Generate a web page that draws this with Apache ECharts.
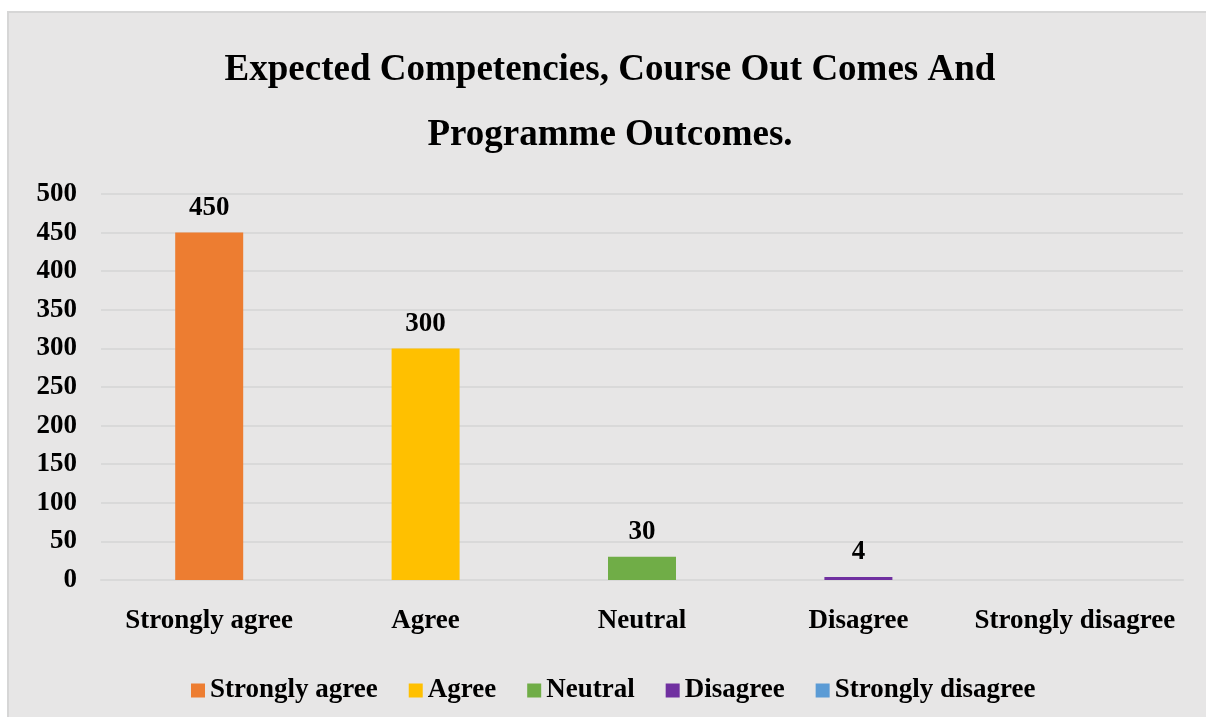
<!DOCTYPE html>
<html>
<head>
<meta charset="utf-8">
<title>Expected Competencies</title>
<script src="https://cdn.jsdelivr.net/npm/echarts@6/dist/echarts.min.js"></script>
<style>
  html, body { margin: 0; padding: 0; background: #fff; }
  #chart { width: 1206px; height: 717px; }
</style>
</head>
<body>
<div id="chart"></div>
<script>
var categories = ['Strongly agree', 'Agree', 'Neutral', 'Disagree', 'Strongly disagree'];
var counts = [450, 300, 30, 4, 0];
var colors = ['#ED7D31', '#FFC000', '#70AD47', '#7030A0', '#5B9BD5'];
var yTicks = { min: 0, max: 500, step: 50 };

var serif = "'Liberation Serif', 'Times New Roman', serif";

var myChart = echarts.init(document.getElementById('chart'));

// one series per category, stacked so each bar sits centred on its own category
var series = categories.map(function (name, i) {
  var data = categories.map(function (c, j) { return j === i ? counts[i] : '-'; });
  return {
    name: name,
    type: 'bar',
    stack: 'all',
    barWidth: 68,
    itemStyle: { color: colors[i] },
    label: {
      show: true,
      position: 'top',
      distance: 11,
      color: '#000',
      fontFamily: serif,
      fontWeight: 'bold',
      fontSize: 27,
      formatter: function (p) { return p.value ? String(p.value) : ''; }
    },
    data: data
  };
});

var option = {
  backgroundColor: '#ffffff',
  animation: false,
  graphic: [{
    type: 'rect',
    z: -10,
    shape: { x: 8, y: 12, width: 1200, height: 710 },
    style: { fill: '#e7e6e6', stroke: '#d6d6d6', lineWidth: 2 }
  }],
  title: {
    text: 'Expected Competencies, Course Out Comes And\nProgramme Outcomes.',
    left: 605,
    textAlign: 'center',
    top: 33,
    textStyle: {
      fontFamily: serif,
      fontWeight: 'bold',
      fontSize: 37,
      lineHeight: 65,
      color: '#000'
    }
  },
  legend: {
    bottom: 8,
    left: 186,
    itemWidth: 14,
    itemHeight: 14,
    itemGap: 31,
    icon: 'rect',
    textStyle: {
      fontFamily: serif,
      fontWeight: 'bold',
      fontSize: 27,
      color: '#000'
    },
    data: categories
  },
  grid: {
    left: 101,
    right: 23,
    top: 194,
    bottom: 137
  },
  xAxis: {
    type: 'category',
    data: categories,
    axisLine: { lineStyle: { color: '#d9d9d9', width: 2 } },
    axisTick: { show: false },
    axisLabel: {
      interval: 0,
      margin: 28,
      color: '#000',
      fontFamily: serif,
      fontWeight: 'bold',
      fontSize: 27
    }
  },
  yAxis: {
    type: 'value',
    min: yTicks.min,
    max: yTicks.max,
    interval: yTicks.step,
    axisLine: { show: false },
    axisTick: { show: false },
    splitLine: { lineStyle: { color: '#d9d9d9', width: 2 } },
    axisLabel: {
      margin: 24,
      color: '#000',
      fontFamily: serif,
      fontWeight: 'bold',
      fontSize: 27
    }
  },
  series: series
};

myChart.setOption(option);
</script>
</body>
</html>
